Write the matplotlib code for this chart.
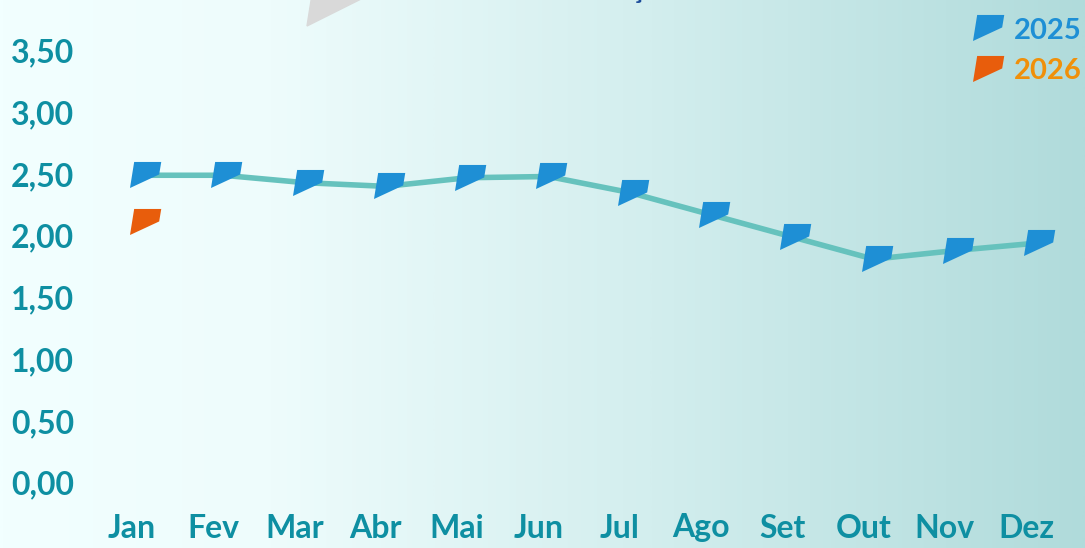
import numpy as np
import matplotlib.pyplot as plt
from matplotlib.path import Path
from matplotlib.lines import Line2D
from matplotlib.colors import LinearSegmentedColormap
import matplotlib.transforms as mtransforms

months = ["Jan", "Fev", "Mar", "Abr", "Mai", "Jun", "Jul", "Ago", "Set", "Out", "Nov", "Dez"]
vals_2025 = [2.51, 2.51, 2.45, 2.42, 2.49, 2.50, 2.37, 2.19, 2.01, 1.83, 1.90, 1.96]
vals_2026 = [2.13]
yticks = [0.0, 0.5, 1.0, 1.5, 2.0, 2.5, 3.0, 3.5]

blue = "#1e8fd5"
orange = "#e85d0c"
orange_txt = "#f0900a"
line_col = "#66c2bd"
label_col = "#0e8fa2"

plt.rcParams['font.family'] = ['Lato', 'DejaVu Sans']

# slanted "flag" marker
flag = Path([(-8, 13), (18, 13), (16, 1), (-12, -12), (-8, 13)],
            [Path.MOVETO, Path.LINETO, Path.LINETO, Path.LINETO, Path.CLOSEPOLY])

fig = plt.figure(figsize=(10.85, 5.48), dpi=100)
ax = fig.add_axes([0, 0, 1, 1])
ax.set_xlim(-1.747, 11.60)
ax.set_ylim(-0.51, 3.93)

# background gradient
cmap = LinearSegmentedColormap.from_list(
    "bg", [(0, "#f2ffff"), (0.25, "#eefcfc"), (0.6, "#d3eeee"), (1, "#b0dbdb")])
grad = np.linspace(0, 1, 512).reshape(1, -1)
ax.imshow(grad, cmap=cmap, aspect="auto", extent=[0, 1, 0, 1],
          transform=ax.transAxes, zorder=0)

# grey shape and cut-off title at top
fig.patches.append(plt.Polygon([(307 / 1085, 1 - 26 / 548), (312 / 1085, 1.01), (370 / 1085, 1.01)],
                               closed=True, color="#d9d9d9", transform=fig.transFigure, zorder=1))
fig.text(637 / 1085, 1.003, "ç", ha="center", va="baseline", fontsize=20,
         fontweight="bold", color="#1a4a9a")

x = np.arange(len(months))
ax.plot(x, vals_2025, color=line_col, lw=4, zorder=2, solid_capstyle="round")
ax.plot(x, vals_2025, ls="none", marker=flag, ms=27, color=blue, mec="none", zorder=3)
ax.plot(x[:len(vals_2026)], vals_2026, ls="none", marker=flag, ms=27, color=orange,
        mec="none", zorder=3)

# y labels
ytrans = mtransforms.blended_transform_factory(ax.transAxes, ax.transData)
for v in yticks:
    ax.text(11 / 1085, v, f"{v:.2f}".replace(".", ","), transform=ytrans,
            ha="left", va="center", fontsize=23, fontweight="bold", color=label_col)

# x labels
xtrans = mtransforms.blended_transform_factory(ax.transData, ax.transAxes) + \
    mtransforms.ScaledTranslation(-10 / 100, 0, fig.dpi_scale_trans)
for i, m in enumerate(months):
    ax.text(i, 1 - 528 / 548, m, transform=xtrans, ha="center", va="center",
            fontsize=23, fontweight="bold", color=label_col)

handles = [Line2D([], [], ls="none", marker=flag, ms=27, color=blue, mec="none"),
           Line2D([], [], ls="none", marker=flag, ms=27, color=orange, mec="none")]
leg = ax.legend(handles, ["2025", "2026"], loc="upper right", bbox_to_anchor=(1.016, 1.005),
                frameon=False, handlelength=1.0, handletextpad=0.5, labelspacing=0.5,
                prop={"weight": "bold", "size": 21}, borderaxespad=0.3)
for t, c in zip(leg.get_texts(), [blue, orange_txt]):
    t.set_color(c)

ax.axis("off")
fig.savefig("out.png", dpi=100)
